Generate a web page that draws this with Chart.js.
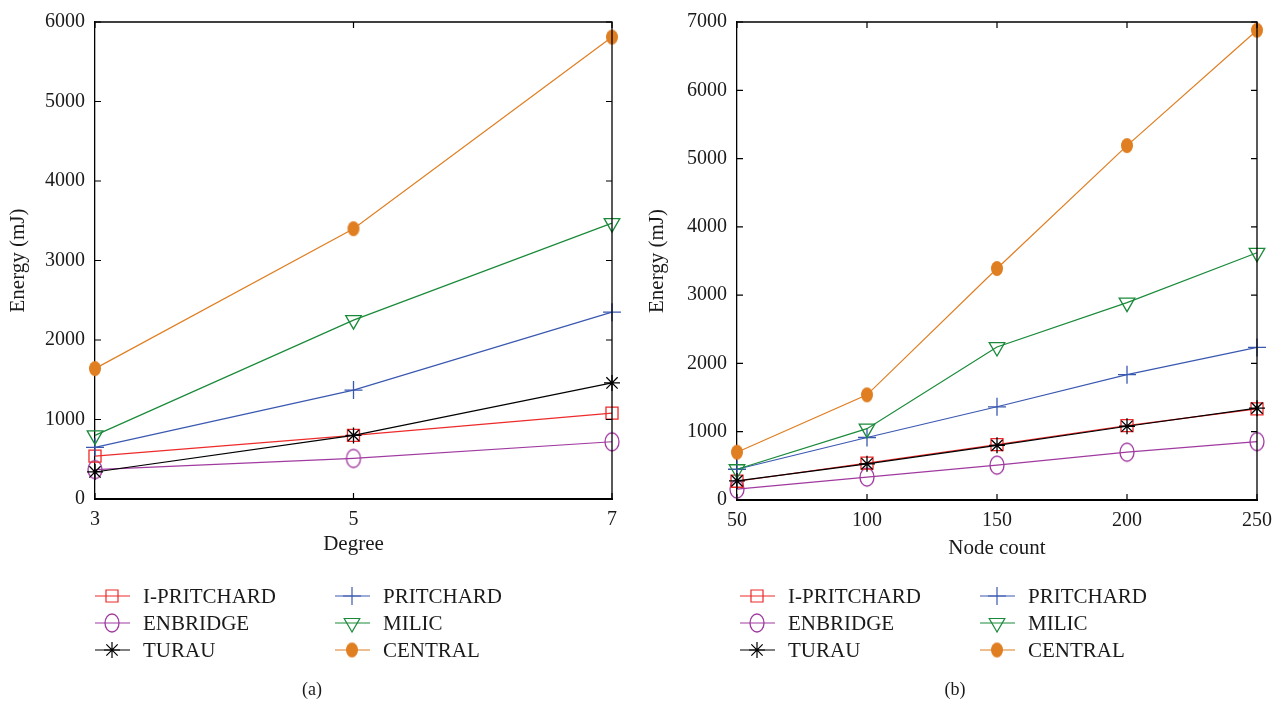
<!DOCTYPE html>
<html><head><meta charset="utf-8">
<script src="https://cdn.jsdelivr.net/npm/chart.js@4.4.1/dist/chart.umd.min.js"></script>
<style>
body{margin:0;background:#fff;width:1282px;height:708px;overflow:hidden;position:relative}
.c{position:absolute;top:0;width:641px;height:708px}
</style></head><body>
<div class="c" style="left:0"><canvas id="chartA"></canvas></div>
<div class="c" style="left:641px"><canvas id="chartB"></canvas></div>
<script>
// ---- data ----
const seriesNames = ['I-PRITCHARD','ENBRIDGE','TURAU','PRITCHARD','MILIC','CENTRAL'];
const degreeCats = [3,5,7];
const degIPritchard = [540, 800, 1080];
const degEnbridge   = [370, 510, 720];
const degTurau      = [340, 800, 1460];
const degPritchard  = [650, 1370, 2350];
const degMilic      = [800, 2250, 3470];
const degCentral    = [1640, 3400, 5810];

const nodeCats = [50,100,150,200,250];
const nodeIPritchard = [275, 540, 810, 1090, 1335];
const nodeEnbridge   = [160, 335, 510, 700, 855];
const nodeTurau      = [280, 530, 800, 1080, 1345];
const nodePritchard  = [450, 915, 1365, 1835, 2235];
const nodeMilic      = [450, 1045, 2240, 2890, 3620];
const nodeCentral    = [700, 1540, 3390, 5190, 6880];

const degYTicks = [0,1000,2000,3000,4000,5000,6000];
const nodeYTicks = [0,1000,2000,3000,4000,5000,6000,7000];

// ---- styles ----
const FAM = "'Liberation Serif','DejaVu Serif',serif";
const TXT = '#1a1a1a';
const colors = ['#ee2a2a','#a03aa0','#000000','#3a58b0','#1a8a3a','#e07e22'];

function ellipse(w,h,stroke,fill,lw){
  const c=document.createElement('canvas');
  c.width=w+4;c.height=h+4;
  const x=c.getContext('2d');
  x.beginPath();x.ellipse(c.width/2,c.height/2,w/2,h/2,0,0,Math.PI*2);
  if(fill){x.fillStyle=fill;x.fill();}
  if(stroke){x.strokeStyle=stroke;x.lineWidth=lw;x.stroke();}
  return c;
}
const enbImg = ellipse(14,18,colors[1],null,1.3);
const cenImg = ellipse(12,15,null,colors[5],0);

const marker = [
  {pointStyle:'rect', radius:8.5, rotation:0, bg:'rgba(0,0,0,0)'},
  {pointStyle:enbImg, radius:8, rotation:0, bg:'rgba(0,0,0,0)'},
  {pointStyle:'star', radius:8, rotation:0, bg:'rgba(0,0,0,0)'},
  {pointStyle:'cross', radius:9, rotation:0, bg:'rgba(0,0,0,0)'},
  {pointStyle:'triangle', radius:9, rotation:180, bg:'rgba(0,0,0,0)'},
  {pointStyle:cenImg, radius:8, rotation:0, bg:colors[5]}
];
const drawOrder = [4,5,1,3,2,6];

function makeDatasets(cats, arrays){
  return arrays.map((arr,i)=>({
    label: seriesNames[i],
    data: cats.map((c,j)=>({x:c,y:arr[j]})),
    borderColor: colors[i],
    backgroundColor: marker[i].bg,
    pointBorderColor: colors[i],
    pointBackgroundColor: marker[i].bg,
    pointStyle: marker[i].pointStyle,
    pointRadius: marker[i].radius,
    pointRotation: marker[i].rotation,
    pointBorderWidth: 1.3,
    pointHoverRadius: marker[i].radius,
    borderWidth: 1.2,
    tension: 0,
    fill: false,
    clip: false,
    order: drawOrder[i]
  }));
}

const decor = {
  id:'decor',
  afterDraw(chart, args, opts){
    const ctx = chart.ctx, a = chart.chartArea;
    ctx.save();
    ctx.strokeStyle='#000';
    ctx.lineWidth=1.3;
    ctx.beginPath();
    ctx.moveTo(a.left,a.top);ctx.lineTo(a.right,a.top);ctx.lineTo(a.right,a.bottom);
    ctx.stroke();
    // inward ticks
    const xs=chart.scales.x, ys=chart.scales.y;
    ctx.lineWidth=1.2;
    ctx.beginPath();
    xs.ticks.forEach(t=>{const p=xs.getPixelForValue(t.value);
      ctx.moveTo(p,a.bottom);ctx.lineTo(p,a.bottom-6);
      ctx.moveTo(p,a.top);ctx.lineTo(p,a.top+6);});
    ys.ticks.forEach(t=>{const p=ys.getPixelForValue(t.value);
      ctx.moveTo(a.left,p);ctx.lineTo(a.left+6,p);
      ctx.moveTo(a.right,p);ctx.lineTo(a.right-6,p);});
    ctx.stroke();
    // legend
    const L = opts.legend;
    ctx.font = '21px '+FAM;
    ctx.textBaseline='middle';
    ctx.textAlign='left';
    chart.data.datasets.forEach((ds,i)=>{
      const col = Math.floor(i/3), row = i%3;
      const x0 = L.cols[col], y0 = L.rows[row];
      ctx.strokeStyle=colors[i]; ctx.lineWidth=1.2;
      ctx.beginPath();ctx.moveTo(x0,y0);ctx.lineTo(x0+35,y0);ctx.stroke();
      ctx.strokeStyle=colors[i]; ctx.fillStyle=marker[i].bg;
      Chart.helpers.drawPoint(ctx,{pointStyle:marker[i].pointStyle,radius:marker[i].radius,rotation:marker[i].rotation,borderWidth:1.3},x0+17,y0);
      ctx.fillStyle=TXT;
      ctx.fillText(ds.label, x0+48, y0+1);
    });
    ctx.textAlign='center';
    ctx.fillStyle=TXT;
    ctx.font='18px '+FAM;
    ctx.fillText(opts.caption, opts.capX, 690);
    ctx.restore();
  }
};

function makeChart(id, cats, arrays, yMax, xStep, xTitle, yWidth, padRight, padBottom, xH, xTitlePad, yTitlePad, legendOpts, caption, capX){
  return new Chart(document.getElementById(id), {
    type:'line',
    data:{datasets: makeDatasets(cats, arrays)},
    plugins:[decor],
    options:{
      responsive:true, maintainAspectRatio:false, animation:false,
      layout:{padding:{left:0,right:padRight,top:18,bottom:padBottom}},
      plugins:{legend:{display:false},tooltip:{enabled:false},
        decor:{legend:legendOpts, caption, capX}},
      scales:{
        x:{type:'linear', min:cats[0], max:cats[cats.length-1],
          ticks:{stepSize:xStep, color:TXT, font:{size:20,family:FAM}, padding:9, maxRotation:0, callback:v=>String(v)},
          grid:{display:false, drawTicks:false},
          border:{display:true,color:'#000',width:2},
          title:{display:true,text:xTitle,color:TXT,font:{size:21,family:FAM},padding:{top:0,bottom:xTitlePad}},
          afterFit(s){s.height=xH;}
        },
        y:{type:'linear', min:0, max:yMax,
          ticks:{stepSize:1000, color:TXT, font:{size:20,family:FAM}, padding:10, callback:v=>String(v)},
          grid:{display:false, drawTicks:false},
          border:{display:true,color:'#000',width:1.3},
          title:{display:true,text:'Energy (mJ)',color:TXT,font:{size:21,family:FAM},padding:{top:yTitlePad,bottom:0}},
          afterFit(s){s.width=yWidth;}
        }
      }
    }
  });
}

makeChart('chartA', degreeCats,
  [degIPritchard,degEnbridge,degTurau,degPritchard,degMilic,degCentral],
  degYTicks[degYTicks.length-1], 2, 'Degree', 95, 29, 708-499-60, 60, 2, 6,
  {cols:[95,335], rows:[596,623,650]}, '(a)', 312);

makeChart('chartB', nodeCats,
  [nodeIPritchard,nodeEnbridge,nodeTurau,nodePritchard,nodeMilic,nodeCentral],
  nodeYTicks[nodeYTicks.length-1], 50, 'Node count', 96, 25, 708-500-62, 62, 1, 4,
  {cols:[99,339], rows:[596,623,650]}, '(b)', 314);
</script>
</body></html>
